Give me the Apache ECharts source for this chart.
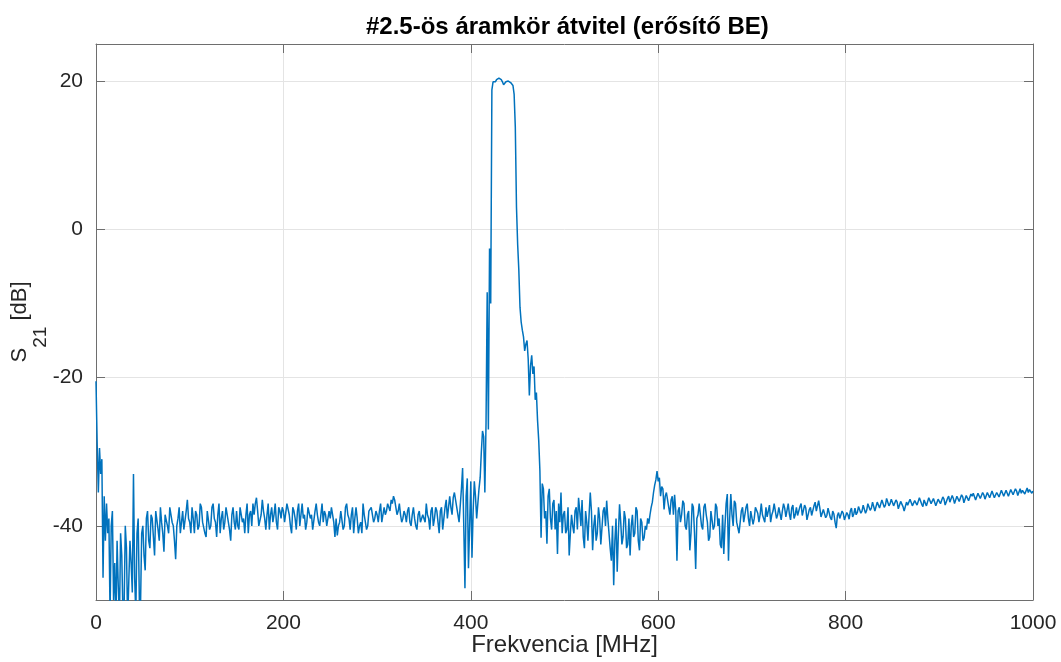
<!DOCTYPE html>
<html>
<head>
<meta charset="utf-8">
<script src="https://cdn.jsdelivr.net/npm/echarts@6/dist/echarts.min.js"></script>
<style>html,body{margin:0;padding:0;background:#fff}#c{width:1061px;height:662px}</style>
</head>
<body>
<div id="c"></div>
<script>
const TITLE = '#2.5-ös áramkör átvitel (erősítő BE)';
const X_NAME = 'Frekvencia [MHz]';
const Y_TICKS = [-40, -20, 0, 20];
const FREQ_START = 0;
const FREQ_STEP = 1.25; // MHz between samples
const S21 = [
  // 0 - 48.75
  -20.5, -29, -35.5, -29.5, -33, -31, -47, -36, -42, -37, -41, -39, -52, -40, -38, -50, -45, -53, -42, -48,
  -53, -41, -44, -52, -51, -40, -43, -53, -53, -42, -45, -49, -33, -47, -52, -41, -39, -50, -51, -41,
  // 50 - 98.75
  -40, -44, -46, -39, -38, -42, -43, -38.5, -39, -41.5, -44, -38, -38, -40.5, -42, -37.5, -39.5, -41, -43.5, -38.5,
  -38.5, -40, -41, -37.5, -37.5, -39.5, -40, -42, -44.5, -40, -39, -37.5, -41, -39.5, -38, -40.5, -40.5, -38, -36.5, -39,
  // 100 - 148.75
  -39.5, -41, -37.5, -39, -41, -38, -38.5, -40.5, -40, -37, -37.5, -39.5, -39.5, -41, -41.5, -38, -38, -40.5, -40, -37.5,
  -37, -39, -39.5, -41.5, -38.5, -37, -41, -39, -38, -40.5, -39.5, -37.5, -37.5, -39.5, -40.5, -42, -38.5, -37.5, -39.5, -40.5,
  // 150 - 198.75
  -38, -40, -40.5, -37.5, -37.5, -39.5, -39, -41, -38.5, -37, -41, -38.5, -38, -40, -37, -38.5, -37, -36.2, -38, -40,
  -40, -38.5, -36.5, -38, -39, -40.5, -38.5, -37, -40.5, -38.5, -37.5, -39.5, -38.5, -37, -39.5, -40.5, -37.5, -38, -39, -37.5,
  // 200 - 248.75
  -38, -39.5, -39.5, -37, -37, -38.5, -40, -41, -37.5, -38, -39, -40.5, -38, -37, -40, -38.5, -37, -39, -38.5, -40.5,
  -39.5, -37.5, -37.5, -39, -38.5, -40.5, -40.5, -38, -37, -38.5, -39.5, -40, -38.5, -37, -39.5, -38, -38.5, -40, -40, -38,
  // 250 - 298.75
  -39, -37.5, -37.5, -39.5, -41.5, -39, -41.3, -40, -39.5, -38, -38, -40.5, -40, -37.5, -37, -38.5, -39, -40.5, -38.5, -37.5,
  -41, -39, -37.5, -39, -41, -40, -39.5, -41, -37, -38.5, -38.5, -40.5, -40, -38, -38, -37.5, -37.5, -39.5, -39, -38,
  // 300 - 348.75
  -38.5, -39.5, -38, -37, -39.5, -38.5, -37.5, -38.5, -38, -37, -37, -38, -36.5, -37, -36, -36.5, -36.4, -38.5, -38, -37,
  -38.5, -39.5, -39, -38, -38.5, -39.5, -38, -37.5, -39.5, -40, -38.5, -37.5, -39, -40, -40.5, -38.5, -38, -39.5, -39.5, -38.5,
  // 350 - 398.75
  -38.5, -39.5, -37, -38.5, -39, -40.5, -38, -37.5, -40, -39, -37.5, -38, -39.5, -41, -38, -37.5, -40.5, -39, -37.5, -36.5,
  -39, -37.5, -36, -37.5, -38.5, -36.2, -35.5, -35.6, -37.5, -37.6, -39.5, -39.7, -35, -32.2, -40, -48.4, -36, -33.6, -45.7, -40,
  // 400 - 448.75
  -34, -44.3, -38, -34, -36, -39, -37, -35, -33.5, -30, -27.2, -28, -35.5, -26.2, -8.5, -27, -2.6, -10, 18.8, 19.9,
  19.7, 19.9, 20.2, 20.1, 20.4, 20.5, 20.2, 19.9, 19.5, 19.6, 19.9, 20.1, 20, 19.8, 19.8, 19.7, 19.4, 18.2, 13.8, 3,
  // 450 - 498.75
  -2, -5.5, -10.5, -12.5, -13.6, -14.5, -16.4, -15.5, -15, -17.5, -22.4, -18.4, -17, -19.5, -18.5, -23, -22, -25.8, -28.5, -32.6,
  -41.6, -34.3, -35, -39, -38, -42.4, -36, -35, -39, -40.5, -37, -36.5, -40.5, -38, -43.8, -37, -39.5, -35.5, -41, -38.5,
  // 500 - 548.75
  -38, -41, -40.5, -37.5, -44, -41, -38.5, -40, -41, -38, -37.5, -40.5, -36.2, -38, -40, -36.5, -41.5, -43, -38, -39.5,
  -42, -38.5, -35.5, -38, -43.3, -40, -38.5, -42, -41, -37.5, -39, -42.5, -42.5, -38, -37.5, -40, -36.6, -39, -41, -43,
  // 550 - 598.75
  -44.7, -40, -48, -42, -39, -46.2, -41, -37.1, -39.5, -42.5, -41.5, -38, -39, -43, -42.5, -39, -44, -40, -38.5, -41.5,
  -41, -37.5, -38, -42, -43.3, -39, -39.5, -42, -41.6, -40, -40.5, -39, -39.7, -38.5, -37.5, -36.8, -35.5, -34.5, -33.8, -32.6,
  // 600 - 648.75
  -34, -33.5, -36, -34.7, -35, -37.8, -36, -35.5, -35.7, -37.5, -38.5, -36.5, -36, -38.5, -35.8, -38, -44.7, -38, -37.5, -39.5,
  -38.5, -36.6, -37, -40, -40.5, -38.5, -38, -43.3, -41, -37, -37.5, -41, -45.8, -39, -38.5, -37, -37.2, -40, -40.5, -37.5,
  // 650 - 698.75
  -37, -38.5, -39.5, -42, -41.5, -38, -38, -40.5, -40, -37, -37.5, -40, -39, -42.5, -43, -38.5, -43.8, -40, -37, -35.7,
  -44.7, -39, -35.7, -38.5, -40, -36.6, -37, -39.5, -39.5, -41, -41, -38, -37.5, -39.5, -39.5, -37.5, -37, -39, -40, -38,
  // 700 - 748.75
  -38, -39.8, -39, -37.5, -37.5, -38.3, -39.5, -38.5, -37, -38.5, -38.5, -39.5, -37.5, -38.8, -38.8, -37.2, -39.5, -38.5, -38, -37,
  -37, -39, -38.5, -37.5, -37.5, -39.2, -38, -37, -37.6, -38.8, -38.8, -37, -38.4, -39.2, -37.6, -37.2, -39, -38.5, -37.5, -38.6,
  // 750 - 798.75
  -38.8, -37.4, -37, -38.6, -38.4, -37.2, -37.6, -39.2, -39, -37.8, -37.5, -38.6, -38.5, -37.3, -36.8, -38, -38.2, -36.6, -37.6, -38.8,
  -39, -37.8, -38, -38.9, -38.6, -37.6, -37.8, -38.9, -39.2, -38, -38.4, -39.5, -40.3, -38.6, -38.2, -39, -38.8, -38, -38.3, -39.2,
  // 800 - 848.75
  -39, -38.2, -38.5, -39.1, -38, -37.6, -38.8, -38.4, -37.6, -38.5, -38.2, -37.4, -37.2, -38.3, -38, -37.2, -37.4, -38.3, -37.9, -37,
  -36.9, -37.9, -37.6, -36.8, -37, -38, -37.8, -36.8, -36.6, -37.6, -37.4, -36.5, -36.4, -37.5, -37.2, -36.3, -36.2, -37.3, -37, -36.4,
  // 850 - 898.75
  -36.4, -37.3, -37.3, -36.5, -36.8, -37.7, -37.6, -36.7, -36.6, -37.4, -38, -37.8, -36.8, -37.2, -37.2, -36.4, -36.4, -37.3, -37.5, -36.6,
  -36.6, -37.2, -37, -36.2, -36.3, -37.1, -37.4, -36.5, -36.5, -37.3, -37.1, -36.2, -36.2, -37, -37, -36.3, -36.4, -37.3, -37.2, -36.4,
  // 900 - 948.75
  -36.2, -37, -36.9, -36.1, -36.4, -37.2, -37.1, -36.3, -36, -36.8, -36.8, -35.9, -36.3, -37, -36.9, -36, -35.9, -36.7, -36.6, -35.8,
  -36.1, -36.9, -36.8, -35.9, -35.8, -36.6, -36.5, -35.7, -36, -35.6, -35.6, -36.5, -36.4, -35.6, -35.7, -36.3, -36.2, -35.5, -35.8, -36.4,
  // 950 - 1000
  -36.3, -35.5, -35.6, -36.2, -36.1, -35.3, -35.4, -36.2, -36.2, -35.5, -35.7, -36.1, -36, -35.2, -35.3, -36, -36, -35.2, -35.4, -36,
  -35.9, -35.1, -35.1, -35.8, -35.7, -35, -35.3, -35.9, -35.8, -35, -35.6, -35.2, -35, -35.7, -35.5, -34.9, -35.5, -35.1, -35.2, -35.6,
  -35.3
];

const FREQS = S21.map((_, i) => FREQ_START + i * FREQ_STEP);
const seriesData = S21.map((v, i) => [FREQS[i], v]);

const FONT = 'Liberation Sans, Arial, Helvetica, sans-serif';
const AXIS_COLOR = '#6e6e6e';
const GRID_COLOR = '#e4e4e4';
const TEXT_COLOR = '#262626';

const chart = echarts.init(document.getElementById('c'), null, {renderer: 'canvas'});
chart.setOption({
  animation: false,
  backgroundColor: '#ffffff',
  title: {
    text: TITLE,
    left: 361,
    top: 10,
    textStyle: {fontFamily: FONT, fontSize: 24, fontWeight: 'bold', color: '#000'}
  },
  grid: {left: 96, right: 28, top: 44, bottom: 62, containLabel: false, outerBoundsMode: 'none'},
  xAxis: [{
    type: 'value', position: 'bottom', min: 0, max: 1000, interval: 200,
    name: X_NAME, nameLocation: 'middle', nameGap: 33, nameMoveOverlap: false,
    nameTextStyle: {fontFamily: FONT, fontSize: 24, color: TEXT_COLOR},
    axisLine: {show: true, onZero: false, lineStyle: {color: AXIS_COLOR, width: 1}},
    axisTick: {show: true, inside: true, length: 9, lineStyle: {color: AXIS_COLOR}},
    axisLabel: {fontFamily: FONT, fontSize: 21, color: TEXT_COLOR, margin: 13, formatter: v => String(v)},
    splitLine: {show: true, lineStyle: {color: GRID_COLOR, width: 1}}
  }, {
    type: 'value', position: 'top', min: 0, max: 1000, interval: 200,
    axisLine: {show: true, onZero: false, lineStyle: {color: AXIS_COLOR, width: 1}},
    axisTick: {show: true, inside: true, length: 9, lineStyle: {color: AXIS_COLOR}},
    axisLabel: {show: false},
    splitLine: {show: false}
  }],
  yAxis: [{
    type: 'value', position: 'left', min: -50, max: 25,
    name: '{s|S}{sub|21}{s| [dB]}', nameLocation: 'middle', nameGap: 46, nameRotate: 90, nameMoveOverlap: false,
    nameTextStyle: {
      fontFamily: FONT, color: TEXT_COLOR,
      rich: {
        s: {fontFamily: FONT, fontSize: 22, color: TEXT_COLOR, lineHeight: 24, verticalAlign: 'top'},
        sub: {fontFamily: FONT, fontSize: 19, color: TEXT_COLOR, lineHeight: 41, verticalAlign: 'bottom'}
      }
    },
    axisLine: {show: true, onZero: false, lineStyle: {color: AXIS_COLOR, width: 1}},
    axisTick: {show: true, inside: true, length: 9, lineStyle: {color: AXIS_COLOR}, customValues: Y_TICKS},
    axisLabel: {fontFamily: FONT, fontSize: 21, color: TEXT_COLOR, margin: 13, customValues: Y_TICKS},
    splitLine: {show: true, lineStyle: {color: GRID_COLOR, width: 1}}
  }, {
    type: 'value', position: 'right', min: -50, max: 25,
    axisLine: {show: true, onZero: false, lineStyle: {color: AXIS_COLOR, width: 1}},
    axisTick: {show: true, inside: true, length: 9, lineStyle: {color: AXIS_COLOR}, customValues: Y_TICKS},
    axisLabel: {show: false, customValues: Y_TICKS},
    splitLine: {show: false}
  }],
  series: [{
    type: 'line',
    xAxisIndex: 0, yAxisIndex: 0,
    data: seriesData,
    showSymbol: false,
    symbol: 'none',
    clip: true,
    lineStyle: {color: '#0072BD', width: 1.5},
    itemStyle: {color: '#0072BD'}
  }]
});
</script>
</body>
</html>
